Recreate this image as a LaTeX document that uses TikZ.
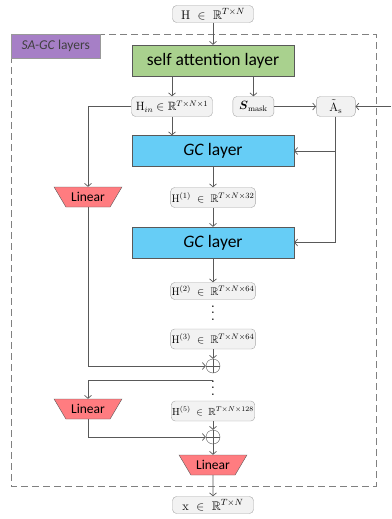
\documentclass[tikz,border=0pt]{standalone}
\usepackage{amsmath,amssymb}
\usepackage{fontspec}
\setsansfont{Carlito}
\usetikzlibrary{positioning, shapes.geometric, arrows.meta}
\definecolor{leafgreen}{HTML}{A9D18E}
\definecolor{skyblue}{HTML}{66CDF6}
\definecolor{salmon}{HTML}{FF7C80}
\definecolor{lilac}{HTML}{A67FC6}
\definecolor{wire}{HTML}{595959}
\definecolor{paper}{HTML}{F2F2F2}
\definecolor{edge}{HTML}{A6A6A6}
\newcommand{\tallvdots}{\vbox{\baselineskip6.5pt\lineskiplimit0pt\hbox{\textbf{.}}\hbox{\textbf{.}}\hbox{\textbf{.}}}}

\begin{document}
\begin{tikzpicture}[
  x=1pt, y=-1pt,
  every node/.style={inner sep=1pt},
  tensor box/.style={
    draw=edge,
    fill=paper,
    rounded corners=4pt,
    minimum width=81pt,
    minimum height=20pt,
    font=\fontsize{11}{12}\selectfont
  },
  layer box/.style={
    draw=wire,
    minimum width=162pt,
    minimum height=31pt,
    font=\sffamily\fontsize{17.5}{19}\selectfont
  },
  linear box/.style={
    trapezium,
    shape border rotate=180,
    trapezium angle=50,
    trapezium stretches=true,
    draw=wire,
    fill=salmon,
    minimum width=68pt,
    minimum height=20pt,
    font=\sffamily\fontsize{13.5}{15}\selectfont
  },
  sum node/.style={circle, draw=wire, minimum size=14pt, inner sep=0pt},
  move arrow/.style={
    -{Straight Barb[length=3pt, width=7pt]},
    draw=wire,
    line width=0.7pt
  },
  skip line/.style={draw=wire, line width=0.7pt}
]
\useasboundingbox (0,0) rectangle (391,519);

\draw[draw=gray, dash pattern=on 7pt off 4pt, line width=0.8pt] (11,34) rectangle (376,486);
\node(tag)[draw=gray!80, fill=lilac, anchor=north west, minimum height=24pt, minimum width=89pt, text=black!75, font=\sffamily\fontsize{13.5}{15}\selectfont] at (11,34) {\textit{SA-GC} layers};

\node(h)[tensor box, minimum height=17pt, font=\fontsize{12.5}{13}\selectfont] at (213,14) {$\mathrm{H}\ \in\ \mathbb{R}^{T\times N}$};
\node(att)[layer box, fill=leafgreen] at (213,60.5) {self attention layer};

\node(hin)[tensor box, font=\fontsize{12}{13}\selectfont] at (172,106.5) {$\mathrm{H}_{in}\in\mathbb{R}^{T\times N\times 1}$};
\node(smask)[tensor box, minimum width=41pt, right=20pt of hin, font=\fontsize{12}{13}\selectfont] {$\boldsymbol{S}_{\mathrm{mask}}$};
\node(as)[tensor box, minimum width=39pt, right=42pt of smask, font=\fontsize{12}{13}\selectfont] {$\tilde{\mathrm{A}}_{\mathrm{s}}$};
\coordinate(ain) at (391,106.5);

\node(gc1)[layer box, fill=skyblue] at (213,151) {\textit{GC} layer};
\node(lin1)[linear box] at (88,197) {Linear};
\node(h1)[tensor box] at (213,197.5) {$\mathrm{H}^{(1)}\;\in\;\mathbb{R}^{T\times N\times 32}$};
\node(gc2)[layer box, fill=skyblue] at (213,242.5) {\textit{GC} layer};
\node(h2)[tensor box, minimum height=17pt] at (213,291) {$\mathrm{H}^{(2)}\;\in\;\mathbb{R}^{T\times N\times 64}$};
\node(vd1)[inner sep=0pt] at (213,313) {\tallvdots};
\node(h3)[tensor box] at (213,339) {$\mathrm{H}^{(3)}\;\in\;\mathbb{R}^{T\times N\times 64}$};
\node(sum1)[sum node] at (213,366) {};
\node(vd2)[inner sep=0pt] at (213,388) {\tallvdots};
\node(lin2)[linear box] at (88,409) {Linear};
\node(h5)[tensor box, font=\fontsize{10.3}{11}\selectfont] at (213,411) {$\mathrm{H}^{(5)}\;\in\;\mathbb{R}^{T\times N\times 128}$};
\node(sum2)[sum node] at (213,437) {};
\node(lin3)[linear box] at (213,465) {Linear};
\node(x)[tensor box, minimum height=17pt, font=\fontsize{12.5}{13}\selectfont] at (213,505) {$\mathrm{x}\ \in\ \mathbb{R}^{T\times N}$};

\draw[move arrow] (h) -- (att);
\draw[move arrow] (att.south -| hin.north) -- (hin);
\draw[move arrow] (att.south -| smask.north) -- (smask);
\draw[move arrow] (smask) -- (as);
\draw[move arrow] (ain) -- (as);
\draw[move arrow] (hin.south) -- (hin.south |- gc1.north);
\draw[move arrow] (as.south) |- (gc1.east);
\draw[move arrow] (as.south) |- (gc2.east);
\draw[move arrow] (hin.west) -| (lin1.north);

\draw[move arrow] (gc1) -- (h1);
\draw[move arrow] (h1) -- (gc2);
\draw[move arrow] (gc2) -- (h2);
\draw[move arrow] (h3) -- (sum1);
\draw[move arrow] (lin1.south) |- (sum1.west);
\draw[move arrow] (vd2.north) -| (lin2.north);
\draw[move arrow] (h5) -- (sum2);
\draw[move arrow] (lin2.south) |- (sum2.west);
\draw[move arrow] (sum2) -- (lin3);
\draw[move arrow] (lin3) -- (x);

\draw[skip line] (sum1.north) -- (sum1.south) (sum1.west) -- (sum1.east);
\draw[skip line] (sum2.north) -- (sum2.south) (sum2.west) -- (sum2.east);

\end{tikzpicture}
\end{document}
